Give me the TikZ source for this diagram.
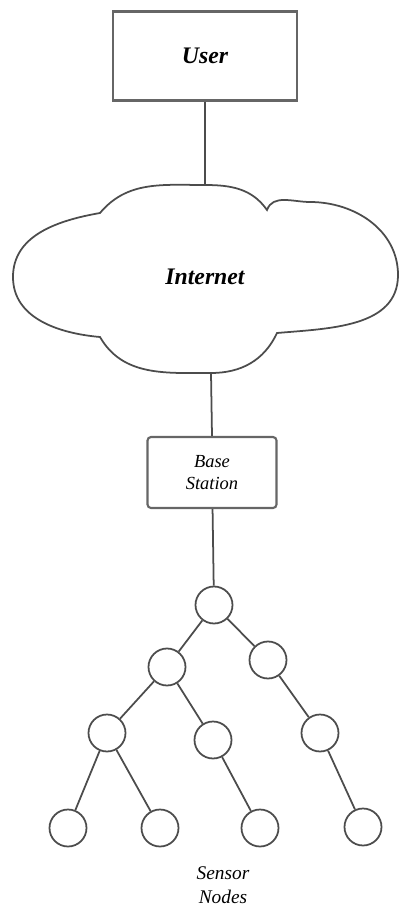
\documentclass[tikz,border=0pt]{standalone}
\usepackage{fontspec}
\setmainfont{Liberation Serif}
\usetikzlibrary{calc}

\begin{document}
\begin{tikzpicture}[
  line/.style={draw=black!70, line width=1pt},
  sensor/.style={circle, draw=black!70, line width=1pt, minimum size=0.74cm, inner sep=0pt},
  box/.style={draw=black!60, line width=1.4pt, inner sep=0pt}]
  \useasboundingbox (0,0) rectangle (8.06,-18.16);
  % user
  \node[box, minimum width=3.68cm, minimum height=1.78cm,
        font=\fontsize{13.5}{16}\selectfont\bfseries\itshape] (user) at (4.10,-1.12) {User};
  % internet cloud
  \coordinate (cloudtop) at (4.10,-3.70);
  \coordinate (cloudbot) at (4.22,-7.46);
  \draw[line] (2.00,-4.26) to[out=50,in=180] (cloudtop) to[out=0,in=125] (5.34,-4.20)
    to[out=70,in=180] (6.20,-4.04) to[out=0,in=90] (7.96,-5.50)
    to[out=-90,in=5] (5.54,-6.66)
    to[out=-115,in=0] (cloudbot) to[out=180,in=-60] (2.00,-6.74)
    to[out=175,in=-90] (0.26,-5.54) to[out=90,in=190] cycle;
  \node[font=\fontsize{13.5}{16}\selectfont\bfseries\itshape] (internet) at (4.10,-5.54) {Internet};
  \draw[line] (user) -- (cloudtop);
  % base station
  \node[box, line width=1.2pt, rounded corners=2pt, minimum width=2.58cm, minimum height=1.42cm,
        align=center, font=\fontsize{10.5}{12.3}\selectfont\itshape] (base) at (4.24,-9.45) {Base\\Station};
  \draw[line] (cloudbot) -- (base.north);
  % sensor tree
  \node[sensor] (root) at (4.28,-12.10) {};
  \node[sensor] (n1) at (3.34,-13.34) {};
  \node[sensor] (n2) at (5.36,-13.20) {};
  \node[sensor] (n11) at (2.14,-14.66) {};
  \node[sensor] (n12) at (4.26,-14.80) {};
  \node[sensor] (n21) at (6.40,-14.66) {};
  \node[sensor] (n111) at (1.36,-16.56) {};
  \node[sensor] (n112) at (3.20,-16.56) {};
  \node[sensor] (n121) at (5.20,-16.56) {};
  \node[sensor] (n211) at (7.26,-16.54) {};
  \draw[line] (base) -- (root);
  \foreach \a/\b in {root/n1, root/n2, n1/n11, n1/n12, n2/n21, n11/n111, n11/n112, n12/n121, n21/n211}
    \draw[line] (\a) -- (\b);
  \node[align=center, font=\fontsize{11}{14}\selectfont\itshape] (label) at (4.46,-17.70) {Sensor\\Nodes};
\end{tikzpicture}
\end{document}
